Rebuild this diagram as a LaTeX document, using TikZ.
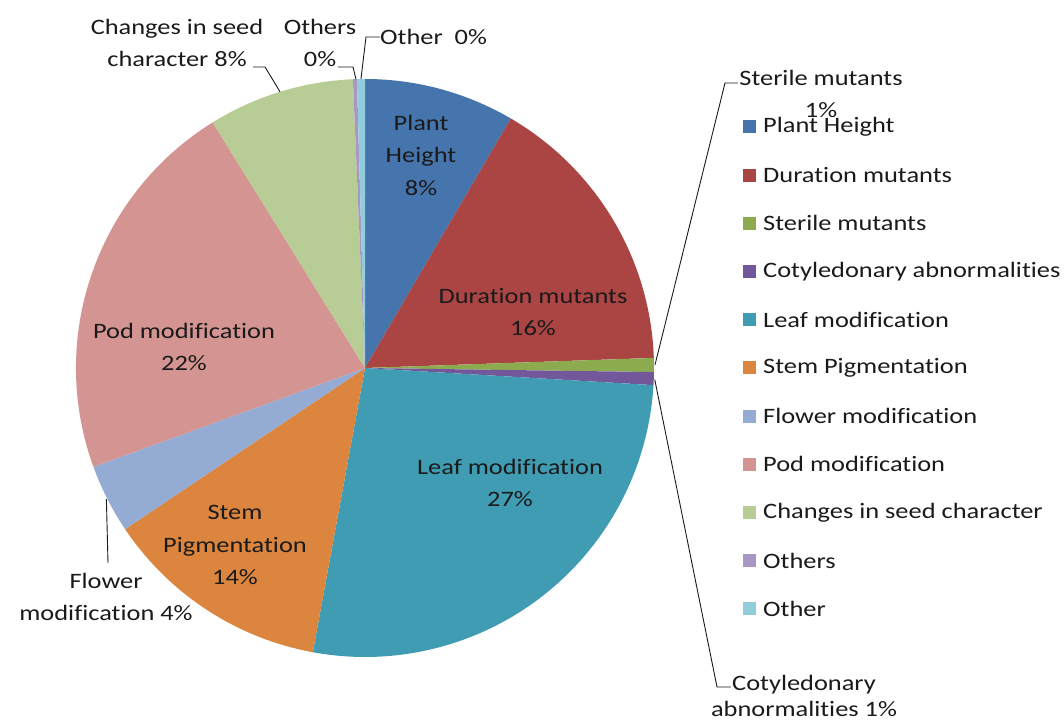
\documentclass[tikz,border=0pt]{standalone}
\usepackage{fontspec}
\setmainfont{Carlito}[FakeStretch=1.2, RawFeature=-liga]
\usetikzlibrary{positioning}

\definecolor{plantc}{HTML}{4674AC}
\definecolor{durc}{HTML}{AB4543}
\definecolor{sterc}{HTML}{8CAB4E}
\definecolor{cotc}{HTML}{72589A}
\definecolor{leafc}{HTML}{409CB3}
\definecolor{stemc}{HTML}{DB853F}
\definecolor{flowc}{HTML}{94ABD4}
\definecolor{podc}{HTML}{D49592}
\definecolor{seedc}{HTML}{B8CD95}
\definecolor{othsc}{HTML}{A897C4}
\definecolor{othc}{HTML}{92CDDC}
\definecolor{txtc}{HTML}{1A1A1A}

\tikzset{
  lbl/.style={font=\fontsize{22}{32.5}\selectfont, text=txtc, align=center, inner sep=0pt},
  leader/.style={draw=txtc, line width=0.9pt},
  slice/.style={draw=none}
}

\begin{document}
\begin{tikzpicture}[x=1pt,y=1pt]
\useasboundingbox (0,0) rectangle (1064,722);
\coordinate (c) at (365,354);

% pie
\foreach \a/\b/\col in {90/59.7/plantc, 59.7/2/durc, 2/-0.8/sterc, -0.8/-3.4/cotc,
  -3.4/-100.4/leafc, -100.4/-146.1/stemc, -146.1/-160/flowc, -160/-238.2/podc,
  -238.2/-267.6/seedc, -267.6/-268.4/othsc, -268.4/-270/othc}
  \fill[slice, fill=\col] (c) -- ++(\a:289) arc[start angle=\a, end angle=\b, radius=289] -- cycle;

% labels inside
\node[lbl] (plant) at (421,567) {Plant\\Height\\8\%};
\node[lbl] (dur) at (533,410) {Duration mutants\\16\%};
\node[lbl] (leaf) at (510,239) {Leaf modification\\27\%};
\node[lbl] (stem) at (235,177) {Stem\\Pigmentation\\14\%};
\node[lbl] (pod) at (184,375) {Pod modification\\22\%};

% labels outside
\node[lbl] (flow) at (106,125) {Flower\\modification 4\%};
\node[lbl] (seed) at (177,679) {Changes in seed\\character 8\%};
\node[lbl] (oths) at (320,679) {Others\\0\%};
\node[lbl, anchor=west] (oth) at (380,685) {Other\ \ 0\%};
\node[lbl] (ster) at (821,628) {Sterile mutants\\1\%};
\node[lbl] (cot) at (804,26) {Cotyledonary\\[-7pt]abnormalities 1\%};

% leader lines
\coordinate (seedtip) at ([shift={(107.1:289)}]c);
\coordinate (othstip) at ([shift={(91.8:289)}]c);
\coordinate (othtip) at ([shift={(90.8:289)}]c);
\coordinate (stertip) at ([shift={(0.6:290)}]c);
\coordinate (cottip) at ([shift={(-2.3:290)}]c);
\coordinate (flowtip) at ([shift={(-153.1:290)}]c);
\draw[leader] (seedtip) -- (265,655) -- (253,655);
\draw[leader] (othstip) -- (353,655) -- (338,655);
\draw[leader] (othtip) -- (366,685) -- (oth.west);
\draw[leader] (stertip) -- (725,639) -- (738,639);
\draw[leader] (cottip) -- (717,35) -- (731,35);
\draw[leader] (flowtip) -- (108,159);

% legend
\foreach \name/\col [count=\i] in {Plant Height/plantc, Duration mutants/durc,
  Sterile mutants/sterc, Cotyledonary abnormalities/cotc, Leaf modification/leafc,
  Stem Pigmentation/stemc, Flower modification/flowc, Pod modification/podc,
  Changes in seed character/seedc, Others/othsc, Other/othc}
{
  \fill[\col] (743,{595-48.2*(\i-1)-6.5}) rectangle ++(13,13);
  \node[lbl, anchor=west] (leg\i) at (763,{595-48.2*(\i-1)}) {\name};
}
\end{tikzpicture}
\end{document}
